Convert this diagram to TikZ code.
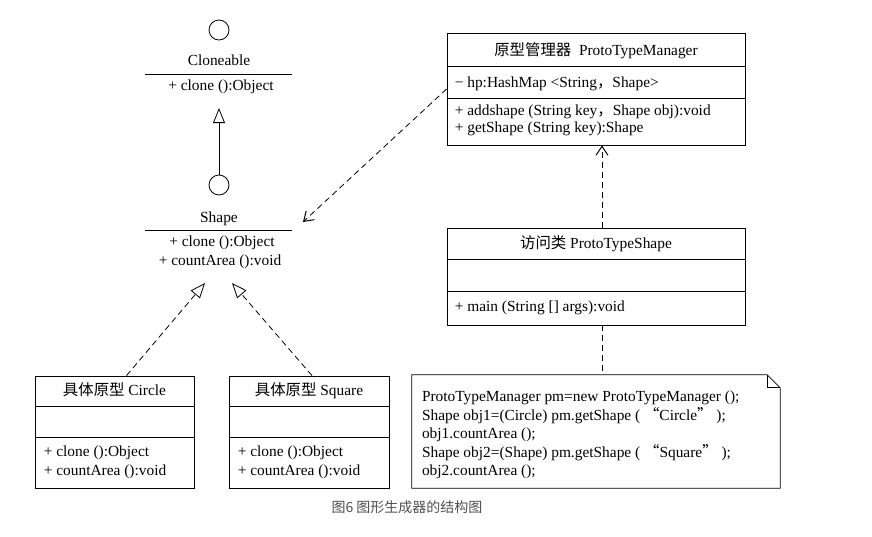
\documentclass[tikz,border=0pt]{standalone}
\usepackage{fontspec}
\setmainfont{Liberation Serif}
\newfontfamily\cjk{Noto Sans CJK SC}
\usepackage{xcolor}
\usepackage{tikz}
\usetikzlibrary{arrows.meta}
\usetikzlibrary{positioning}
\definecolor{captiongray}{RGB}{80,80,80}
\tikzset{
  Klasse/.style={draw, line width=0.8pt, inner sep=0pt}, % Klassenrahmen
  Kreis/.style={draw, line width=0.8pt, circle, minimum size=20pt, inner sep=0pt},% Schnittstelle
  Titel/.style={inner sep=0pt, text height=11pt, text depth=4pt},
  Eintrag/.style={Titel, anchor=west}, % Attribute und Methoden
  Strich/.style={dash pattern=on 6pt off 4pt},
  Erbung/.style={line width=0.8pt, -{Triangle[open, length=15pt, width=12pt]}},
  Realisierung/.style={Erbung, Strich},
  Abh/.style={line width=0.8pt, Strich, -{Straight Barb[length=9pt, width=12pt, line width=1pt]}}
}

\begin{document}
\begin{tikzpicture}[x=1pt, y=-1pt,
font=\fontsize{15.4}{18}\selectfont
]
\useasboundingbox (0,0) rectangle (872,536);

%Schnittstelle Cloneable
\node[Kreis] (cloneC) at (219,30) {};
\node[Titel] (cloneT) at (219,62) {Cloneable};
\draw[line width=0.8pt] (145,74) -- (292,74);
\node[Titel] (cloneM) at (221,87) {+ clone ():Object};
\coordinate (cloneH) at (219,108);

%Shape
\node[Kreis] (shapeC) at (219,185) {};
\node[Titel] (shapeT) at (219,219) {Shape};
\draw[line width=0.8pt] (145,230) -- (292,230);
\node[Titel] (shapeM1) at (222,243) {+ clone ():Object};
\node[Titel] (shapeM2) at (220,262) {+ countArea ():void};
\coordinate (shapeL) at (205,283);
\coordinate (shapeR) at (232,283);
\coordinate (shapeD) at (303,222);

%Klassen
\node[Klasse, minimum width=159pt, minimum height=112pt] (circle) at (114.5,432) {};
\node[Klasse, minimum width=160pt, minimum height=112pt] (square) at (309,432) {};
\node[Klasse, minimum width=298pt, minimum height=112pt] (man) at (596,89) {};
\node[Klasse, minimum width=298pt, minimum height=97pt] (ps) at (596,276.5) {};

%Trennlinien
\foreach \k/\a/\b in {circle/31/62, square/31/62, man/34/66, ps/32/64}{%
\draw[line width=0.8pt] ([yshift=-\a pt]\k.north west) -- ([yshift=-\a pt]\k.north east);
\draw[line width=0.8pt] ([yshift=-\b pt]\k.north west) -- ([yshift=-\b pt]\k.north east);
};

%Texte
\node[Titel] (circleT) at ([yshift=-16pt]circle.north) {{\cjk 具体原型} Circle};
\node[Eintrag] (circleM1) at ([shift={(9pt,-77pt)}]circle.north west) {+ clone ():Object};
\node[Eintrag] (circleM2) at ([shift={(9pt,-96pt)}]circle.north west) {+ countArea ():void};

\node[Titel] (squareT) at ([yshift=-16pt]square.north) {{\cjk 具体原型} Square};
\node[Eintrag] (squareM1) at ([shift={(9pt,-77pt)}]square.north west) {+ clone ():Object};
\node[Eintrag] (squareM2) at ([shift={(9pt,-96pt)}]square.north west) {+ countArea ():void};

\node[Titel] (manT) at ([yshift=-19pt]man.north) {{\cjk 原型管理器}\ \ ProtoTypeManager};
\node[Eintrag] (manA) at ([shift={(8pt,-51pt)}]man.north west) {− hp:HashMap <String{\cjk ，}Shape>};
\node[Eintrag] (manM1) at ([shift={(8pt,-79pt)}]man.north west) {+ addshape (String key{\cjk ，}Shape obj):void};
\node[Eintrag] (manM2) at ([shift={(8pt,-96pt)}]man.north west) {+ getShape (String key):Shape};

\node[Titel] (psT) at ([yshift=-17pt]ps.north) {{\cjk 访问类} ProtoTypeShape};
\node[Eintrag] (psM) at ([shift={(8pt,-80pt)}]ps.north west) {+ main (String [] args):void};

%Notiz
\node[minimum width=368pt, minimum height=113pt, inner sep=0pt] (note) at (596,431.5) {};
\draw[line width=0.8pt] (note.north west) -- ([xshift=-13pt]note.north east)
 -- ([yshift=-13pt]note.north east) -- (note.south east) -- (note.south west) -- cycle;
\draw[line width=0.8pt] ([xshift=-13pt]note.north east) |- ([yshift=-13pt]note.north east);
\node[anchor=north west, align=left, inner sep=0pt, font=\fontsize{15.4}{18.5}\selectfont]
 (code) at ([shift={(10pt,-16pt)}]note.north west)
 {ProtoTypeManager pm=new ProtoTypeManager ();\\
  Shape obj1=(Circle) pm.getShape ( {\cjk “}Circle{\cjk ”} );\\
  obj1.countArea ();\\
  Shape obj2=(Shape) pm.getShape ( {\cjk “}Square{\cjk ”} );\\
  obj2.countArea ();};

%Verbindungen
\draw[Erbung] (shapeC) -- (cloneH);
\draw[Realisierung] ([xshift=12pt]circle.north) -- (shapeL);
\draw[Realisierung] ([xshift=3pt]square.north) -- (shapeR);
\draw[Abh] (man.west) -- (shapeD);
\draw[Abh] ([xshift=6pt]ps.north) -- ([xshift=6pt]man.south);
\draw[line width=0.8pt, Strich] ([xshift=6pt]ps.south) -- ([xshift=6pt]note.north);

%Bildunterschrift
\node[Titel, text=captiongray, font=\cjk\fontsize{14}{16}\selectfont] (caption) at (407,509) {图6 图形生成器的结构图};

\end{tikzpicture}
\end{document}
